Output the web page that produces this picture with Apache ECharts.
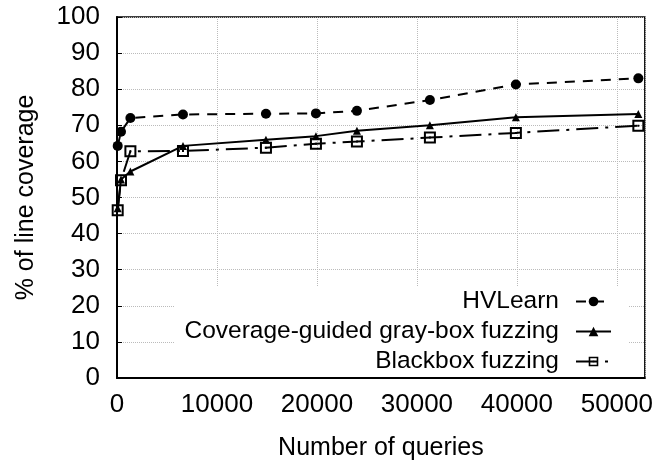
<!DOCTYPE html>
<html>
<head>
<meta charset="utf-8">
<script src="https://cdn.jsdelivr.net/npm/echarts@6/dist/echarts.min.js"></script>
<style>
  html, body { margin: 0; padding: 0; background: #fff; }
</style>
</head>
<body>
<div id="myCharts" style="width: 656px; height: 466px;"></div>
<script>
  // 查询次数 (x)
  var queries = [70, 400, 1340, 6600, 14900, 19900, 24000, 31300, 39900, 52150];
  // 覆盖率 (%)
  var hvlearn = [64.3, 68.2, 72.0, 73.0, 73.2, 73.3, 74.0, 77.0, 81.3, 83.0];
  var grayBox = [47.0, 55.0, 57.2, 64.3, 66.0, 67.0, 68.5, 70.0, 72.2, 73.1];
  var blackBox = [46.5, 54.8, 62.8, 62.9, 63.8, 64.9, 65.5, 66.6, 67.9, 69.9];
  var seriesNames = ['HVLearn', 'Coverage-guided gray-box fuzzing', 'Blackbox fuzzing'];

  var font = 'Liberation Sans';
  var squareDot = 'path://M0,0H12V12H0Z M2,2V10H10V2Z M5,5H7V7H5Z';

  function pairs(ys) {
    return queries.map(function (x, i) { return [x, ys[i]]; });
  }

  var options = {
    animation: false,
    grid: {
      left: 117,
      right: 11,
      top: 17,
      bottom: 87,
      show: true,
      borderColor: '#000',
      borderWidth: 1.5
    },
    legend: {
      orient: 'vertical',
      right: 28,
      top: 286,
      align: 'right',
      itemWidth: 35,
      itemHeight: 12,
      itemGap: 5,
      padding: [3, 16, 3, 10],
      backgroundColor: '#fff',
      data: seriesNames,
      textStyle: {
        fontFamily: font,
        fontSize: 24.5,
        lineHeight: 25,
        color: '#000',
        padding: [0, 12, 0, 0]
      }
    },
    xAxis: {
      type: 'value',
      min: 0,
      max: 52800,
      interval: 10000,
      name: 'Number of queries',
      nameLocation: 'middle',
      nameGap: 58,
      nameTextStyle: { fontFamily: font, fontSize: 25, color: '#000' },
      axisLine: { lineStyle: { color: '#000', width: 2 } },
      axisTick: { inside: true, length: 5, lineStyle: { color: '#000', width: 1 } },
      axisLabel: {
        fontFamily: font, fontSize: 26, color: '#000', margin: 14, showMaxLabel: false,
        formatter: function (v) { return String(v); }
      },
      splitLine: { show: true, lineStyle: { color: '#bbb', type: 'dotted', width: 1 } }
    },
    yAxis: {
      type: 'value',
      min: 0,
      max: 100,
      interval: 10,
      name: '% of line coverage',
      nameLocation: 'middle',
      nameGap: 78,
      nameTextStyle: { fontFamily: font, fontSize: 25, color: '#000' },
      axisLine: { show: true, lineStyle: { color: '#000', width: 2 } },
      axisTick: { show: true, inside: true, length: 5, lineStyle: { color: '#000', width: 1 } },
      axisLabel: { fontFamily: font, fontSize: 26, color: '#000', margin: 17 },
      splitLine: { show: true, lineStyle: { color: '#bbb', type: 'dotted', width: 1 } }
    },
    series: [
      {
        name: seriesNames[0],
        type: 'line',
        data: pairs(hvlearn),
        symbol: 'circle',
        symbolSize: 10,
        itemStyle: { color: '#000' },
        lineStyle: { color: '#000', width: 2, type: [10, 8] },
        z: 3
      },
      {
        name: seriesNames[1],
        type: 'line',
        data: pairs(grayBox),
        symbol: 'triangle',
        symbolSize: 8,
        itemStyle: { color: '#000' },
        lineStyle: { color: '#000', width: 2, type: 'solid' },
        z: 2
      },
      {
        name: seriesNames[2],
        type: 'line',
        data: pairs(blackBox),
        symbol: squareDot,
        symbolSize: 12,
        itemStyle: { color: '#000' },
        lineStyle: { color: '#000', width: 2, type: [22, 7, 3, 7] },
        z: 4
      }
    ]
  };

  var myCharts = echarts.init(document.getElementById('myCharts'));
  myCharts.setOption(options);
</script>
</body>
</html>
